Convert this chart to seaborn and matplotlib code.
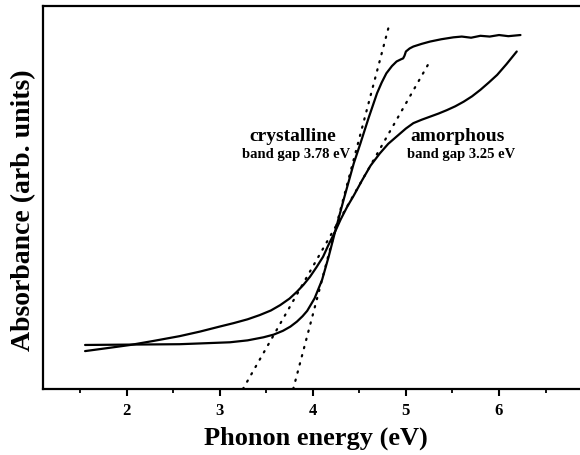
import numpy as np
import pandas as pd
import seaborn as sns
import matplotlib.pyplot as plt
from matplotlib.ticker import MultipleLocator

# === Data (absorbance in arb. units, 0..1) ===
cryst_energy = [1.555, 2.05, 2.57, 2.79, 3.11, 3.30, 3.47, 3.58, 3.68, 3.76,
                3.83, 3.89, 3.94, 4.02, 4.10, 4.17, 4.24, 4.33, 4.40, 4.44,
                4.51, 4.60, 4.69, 4.74, 4.79, 4.85, 4.90, 4.95, 4.97, 4.985,
                5.00, 5.04, 5.08, 5.17, 5.26, 5.38, 5.51, 5.60, 5.70, 5.80,
                5.90, 6.00, 6.10, 6.23]
cryst_absorb = [0.115, 0.116, 0.117, 0.119, 0.122, 0.127, 0.135, 0.142, 0.152, 0.163,
                0.176, 0.190, 0.204, 0.237, 0.285, 0.345, 0.411, 0.493, 0.554, 0.589,
                0.640, 0.708, 0.772, 0.800, 0.824, 0.843, 0.855, 0.861, 0.863, 0.870,
                0.881, 0.889, 0.894, 0.901, 0.907, 0.913, 0.918, 0.920, 0.917, 0.922,
                0.920, 0.924, 0.921, 0.924]

amorph_energy = [1.555, 1.80, 2.04, 2.30, 2.57, 2.79, 3.00, 3.15, 3.30, 3.43,
                 3.55, 3.65, 3.75, 3.83, 3.90, 3.97, 4.04, 4.11, 4.17, 4.24,
                 4.30, 4.37, 4.44, 4.53, 4.62, 4.72, 4.81, 4.90, 5.00, 5.08,
                 5.17, 5.26, 5.35, 5.44, 5.53, 5.62, 5.71, 5.80, 5.89, 5.98,
                 6.08, 6.19]
amorph_absorb = [0.099, 0.107, 0.115, 0.126, 0.138, 0.150, 0.163, 0.172, 0.182, 0.193,
                 0.205, 0.219, 0.236, 0.254, 0.272, 0.293, 0.318, 0.345, 0.377, 0.411,
                 0.443, 0.476, 0.505, 0.545, 0.583, 0.615, 0.640, 0.659, 0.680, 0.694,
                 0.703, 0.711, 0.719, 0.728, 0.738, 0.750, 0.764, 0.781, 0.800, 0.820,
                 0.848, 0.881]

# linear fits (extrapolated to zero absorbance -> band gap)
cryst_fit_x = [3.79, 4.83]
cryst_fit_y = [0.0, 0.959]
amorph_fit_x = [3.25, 5.25]
amorph_fit_y = [0.0, 0.852]

x_ticks = [2, 3, 4, 5, 6]

sns.set_style("white")
plt.rcParams['font.family'] = ['Liberation Serif', 'DejaVu Serif']
plt.rcParams['font.weight'] = 'bold'
plt.rcParams['text.color'] = 'black'
plt.rcParams['axes.labelcolor'] = 'black'
plt.rcParams['xtick.color'] = 'black'

fig = plt.figure(figsize=(5.8, 4.55), dpi=100)
ax = fig.add_axes([0.0741, 0.145, 0.926, 0.842])

sns.lineplot(x=cryst_energy, y=cryst_absorb, ax=ax, color='black', lw=1.6,
             estimator=None, sort=False)
sns.lineplot(x=amorph_energy, y=amorph_absorb, ax=ax, color='black', lw=1.6,
             estimator=None, sort=False)
for fx, fy in [(cryst_fit_x, cryst_fit_y), (amorph_fit_x, amorph_fit_y)]:
    ax.plot(fx, fy, color='black', lw=1.6, linestyle=(0, (0.6, 3.2)),
            dash_capstyle='round')

ax.text(3.78, 0.658, 'crystalline', ha='center', va='center', fontsize=14, fontweight='bold')
ax.text(3.82, 0.611, 'band gap 3.78 eV', ha='center', va='center', fontsize=10.5, fontweight='bold')
ax.text(5.56, 0.658, 'amorphous', ha='center', va='center', fontsize=14, fontweight='bold')
ax.text(5.59, 0.611, 'band gap 3.25 eV', ha='center', va='center', fontsize=10.5, fontweight='bold')

ax.set_xlim(1.103, 6.87)
ax.set_ylim(0, 1)
ax.set_xticks(x_ticks)
ax.xaxis.set_minor_locator(MultipleLocator(0.5))
ax.set_yticks([])
ax.tick_params(axis='x', which='major', direction='out', length=5, width=1.5,
               labelsize=12, pad=5, bottom=True, colors='black')
ax.tick_params(axis='x', which='minor', direction='out', length=3, width=1.3,
               bottom=True, colors='black')
for lab in ax.get_xticklabels():
    lab.set_fontweight('bold')

for side in ['left', 'bottom', 'top']:
    ax.spines[side].set_linewidth(1.6)
    ax.spines[side].set_color('black')
ax.spines['right'].set_visible(False)

ax.set_xlabel('Phonon energy (eV)', fontsize=19, fontweight='bold', color='black')
ax.set_ylabel('Absorbance (arb. units)', fontsize=20, fontweight='bold', color='black')
ax.xaxis.set_label_coords(0.508, -0.098)
ax.yaxis.set_label_coords(-0.013, 0.467)

fig.savefig('out.png', dpi=100)
